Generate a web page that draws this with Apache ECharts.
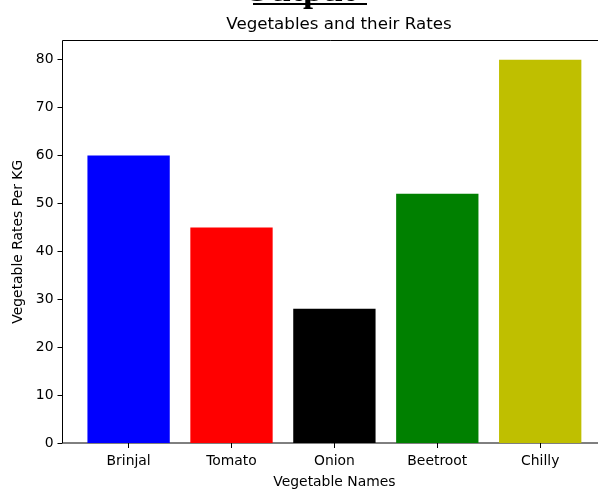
<!DOCTYPE html>
<html>
<head>
<meta charset="utf-8">
<script src="https://cdn.jsdelivr.net/npm/echarts@6/dist/echarts.min.js"></script>
<style>html,body{margin:0;padding:0;background:#fff;}#c{width:598px;height:489px;}</style>
</head>
<body>
<div id="c"></div>
<script>
const categories = ['Brinjal', 'Tomato', 'Onion', 'Beetroot', 'Chilly'];
const rates = [60, 45, 28, 52, 80];
const barColors = ['#0000ff', '#ff0000', '#000000', '#008000', '#bfbf00'];
const yTicks = { min: 0, max: 84, interval: 10 };

const FONT = 'DejaVu Sans';
const chart = echarts.init(document.getElementById('c'), null, { renderer: 'canvas' });
chart.setOption({
  animation: false,
  backgroundColor: '#fff',
  title: {
    text: 'Vegetables and their Rates',
    left: 334, top: 11, textAlign: 'center',
    textStyle: { fontFamily: FONT, fontSize: 16.7, fontWeight: 'normal', color: '#000' }
  },
  graphic: [
    { type: 'text', left: 'center', x: 0, top: -26.5, style: { text: 'Output', font: 'bold 36px "Liberation Serif"', fill: '#000' }, silent: true },
    { type: 'rect', shape: { x: 253, y: 3, width: 114, height: 2 }, style: { fill: '#000' }, silent: true }
  ],
  grid: [
    { left: 62.5, top: 40.5, width: 543, height: 402.5, show: true, borderColor: '#000', borderWidth: 1, backgroundColor: 'transparent', containLabel: false, outerBoundsMode: 'none' },
    { left: 77.15, top: 40.5, width: 514.5, height: 402.5, containLabel: false, outerBoundsMode: 'none' }
  ],
  xAxis: [
    { gridIndex: 0, type: 'value', show: false },
    {
      gridIndex: 1, type: 'category', data: categories,
      axisLine: { show: false },
      axisTick: { show: true, alignWithLabel: true, length: 5, lineStyle: { color: '#000', width: 1 } },
      axisLabel: { fontFamily: FONT, fontSize: 13.9, color: '#000', margin: 11 },
      name: 'Vegetable Names', nameLocation: 'middle', nameGap: 32,
      nameTextStyle: { fontFamily: FONT, fontSize: 13.9, color: '#000' }
    }
  ],
  yAxis: [
    { gridIndex: 0, type: 'value', show: false },
    {
      gridIndex: 1, type: 'value', min: yTicks.min, max: yTicks.max, interval: yTicks.interval,
      offset: 14.65,
      splitLine: { show: false },
      axisLine: { show: false },
      axisTick: { show: true, length: 5, lineStyle: { color: '#000', width: 1 } },
      axisLabel: { fontFamily: FONT, fontSize: 13.9, color: '#000', margin: 9, showMaxLabel: false,
        formatter: v => (v % 10 === 0 ? String(v) : '') },
      name: 'Vegetable Rates Per KG', nameLocation: 'middle', nameGap: 37, nameRotate: 90,
      nameTextStyle: { fontFamily: FONT, fontSize: 13.9, color: '#000' }
    }
  ],
  series: [{
    type: 'bar', xAxisIndex: 1, yAxisIndex: 1, barWidth: '80%',
    data: rates.map((v, i) => ({ value: v, itemStyle: { color: barColors[i] } }))
  }]
});
</script>
</body>
</html>
